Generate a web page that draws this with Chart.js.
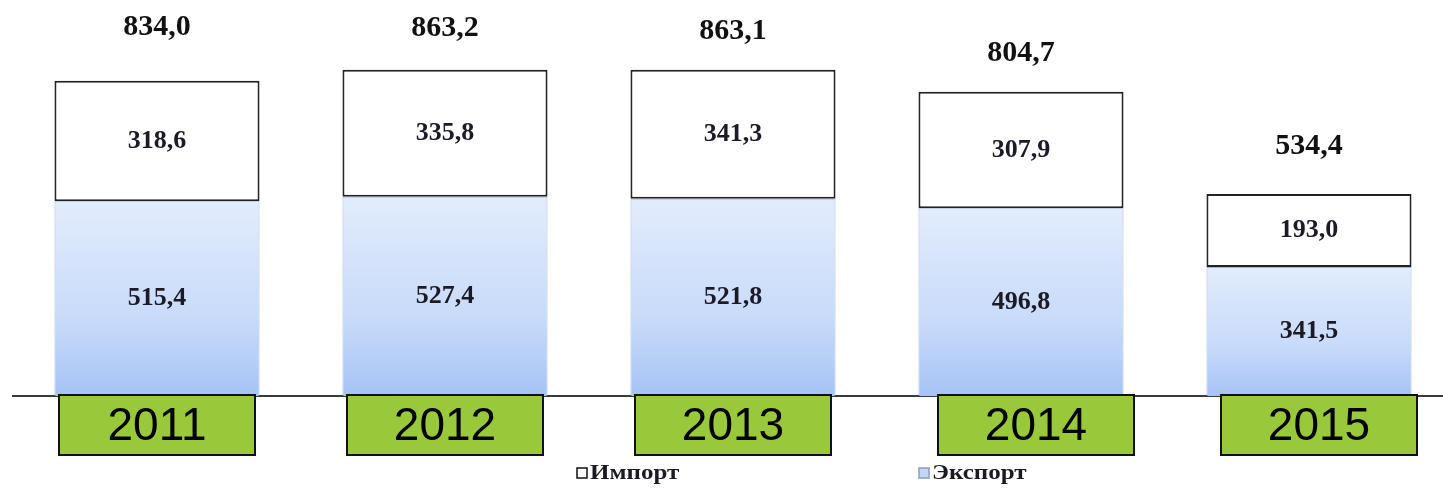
<!DOCTYPE html>
<html>
<head>
<meta charset="utf-8">
<script src="https://cdn.jsdelivr.net/npm/chart.js@4.4.1/dist/chart.umd.min.js"></script>
<style>
  html, body { margin: 0; padding: 0; background: #fff; overflow: hidden; }
  #wrap { width: 1453px; height: 489px; position: relative; }
</style>
</head>
<body>
<div id="wrap"><canvas id="trade"></canvas></div>
<script>
// data
const years = ['2011', '2012', '2013', '2014', '2015'];
const exportVals = [515.4, 527.4, 521.8, 496.8, 341.5];
const importVals = [318.6, 335.8, 341.3, 307.9, 193.0];
const totals = [834.0, 863.2, 863.1, 804.7, 534.4];

const fmt = v => v.toFixed(1).replace('.', ',');

// export bars: light-to-darker blue, per bar
function exportFill(ctx) {
    const chart = ctx.chart;
    if (!chart.chartArea || ctx.type !== 'data') return '#c6d8f8';
    const y = chart.scales.y;
    const top = y.getPixelForValue(ctx.raw);
    const bottom = y.getPixelForValue(0);
    const g = chart.ctx.createLinearGradient(0, top, 0, bottom);
    g.addColorStop(0, '#e2ecfc');
    g.addColorStop(0.6, '#c9dbf9');
    g.addColorStop(1, '#a6c3f5');
    return g;
}

// numbers on and above the bars
const totalGap = [53, 41, 38, 39, 48];
const valueLabels = {
    id: 'valueLabels',
    afterDatasetsDraw(chart) {
        const c = chart.ctx;
        c.save();
        c.textAlign = 'center';
        c.textBaseline = 'middle';
        c.font = 'bold 26px "Liberation Serif", serif';
        c.fillStyle = '#1b1b28';
        chart.data.datasets.forEach((ds, i) => {
            chart.getDatasetMeta(i).data.forEach((el, j) => {
                c.fillText(fmt(ds.data[j]), el.x, (el.y + el.base) / 2);
            });
        });
        c.font = 'bold 30px "Liberation Serif", serif';
        c.fillStyle = '#111';
        chart.getDatasetMeta(1).data.forEach((el, j) => {
            c.fillText(fmt(totals[j]), el.x, el.y - totalGap[j]);
        });
        c.restore();
    }
};

// green year boxes under the axis + legend
const boxShift = [0, 0, 0, 15, 10];
const yearBoxes = {
    id: 'yearBoxes',
    afterDraw(chart) {
        const c = chart.ctx;
        const xs = chart.scales.x;
        const top = chart.chartArea.bottom - 1;
        c.save();
        years.forEach((yr, i) => {
            const x = xs.getPixelForValue(i) + boxShift[i];
            c.fillStyle = '#99c93a';
            c.fillRect(x - 98, top, 196, 60);
            c.lineWidth = 2;
            c.strokeStyle = '#111';
            c.strokeRect(x - 98, top, 196, 60);
            c.fillStyle = '#000';
            c.font = '46px "Liberation Sans", Arial, sans-serif';
            c.textAlign = 'center';
            c.textBaseline = 'middle';
            c.fillText(yr, x, top + 32);
        });

        // legend
        const items = [
            { text: 'Импорт', fill: '#fff', stroke: '#111', x: 577 },
            { text: 'Экспорт', fill: '#c4d6f6', stroke: '#8a9cc0', x: 919 }
        ];
        c.textAlign = 'left';
        c.textBaseline = 'middle';
        items.forEach(it => {
            c.fillStyle = it.fill;
            c.fillRect(it.x, 468, 10, 10);
            c.lineWidth = 1.5;
            c.strokeStyle = it.stroke;
            c.strokeRect(it.x, 468, 10, 10);
            c.save();
            c.translate(it.x + 13, 474);
            c.scale(1.25, 1);
            c.font = 'bold 20px "Liberation Serif", serif';
            c.fillStyle = '#1a1a22';
            c.fillText(it.text, 0, 0);
            c.restore();
        });
        c.restore();
    }
};

new Chart(document.getElementById('trade'), {
    type: 'bar',
    data: {
        labels: years,
        datasets: [{
            label: 'Экспорт',
            data: exportVals,
            backgroundColor: exportFill,
            borderColor: 'rgba(130,150,190,0.7)',
            borderWidth: 1,
            barPercentage: 0.712,
            categoryPercentage: 1
        }, {
            label: 'Импорт',
            data: importVals,
            backgroundColor: '#fff',
            borderColor: '#222',
            borderWidth: 2,
            borderSkipped: false,
            barPercentage: 0.712,
            categoryPercentage: 1
        }]
    },
    options: {
        responsive: true,
        maintainAspectRatio: false,
        animation: false,
        layout: { padding: { top: 18, bottom: 93, left: 13, right: 0 } },
        scales: {
            x: {
                stacked: true,
                grid: { display: false },
                border: { display: true, color: '#3a3a3a', width: 2 },
                ticks: { display: false },
                afterFit: s => { s.height = 0; }
            },
            y: {
                stacked: true,
                display: false,
                min: 0,
                max: 1000
            }
        },
        plugins: {
            legend: { display: false },
            tooltip: { enabled: false }
        }
    },
    plugins: [valueLabels, yearBoxes]
});
</script>
</body>
</html>
